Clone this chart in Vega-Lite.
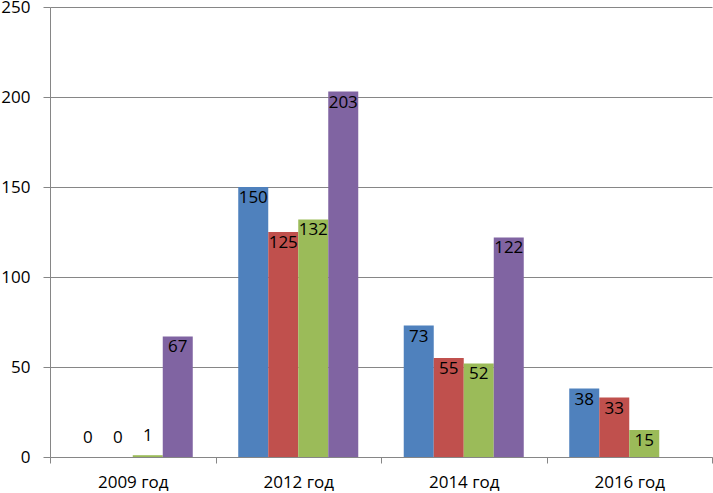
{
  "$schema": "https://vega.github.io/schema/vega-lite/v6.json",
  "autosize": "none",
  "width": 662,
  "height": 450,
  "padding": {"left": 50, "top": 7, "right": 1, "bottom": 36},
  "background": "#ffffff",
  "config": {
    "view": {"stroke": null},
    "font": "Open Sans",
    "axis": {"labelFont": "Open Sans", "labelColor": "#000000", "labelFontSize": 17}
  },
  "data": {
    "values": [
      {"year": "2009 год", "series": "Ряд 1", "value": 0},
      {"year": "2009 год", "series": "Ряд 2", "value": 0},
      {"year": "2009 год", "series": "Ряд 3", "value": 1},
      {"year": "2009 год", "series": "Ряд 4", "value": 67},
      {"year": "2012 год", "series": "Ряд 1", "value": 150},
      {"year": "2012 год", "series": "Ряд 2", "value": 125},
      {"year": "2012 год", "series": "Ряд 3", "value": 132},
      {"year": "2012 год", "series": "Ряд 4", "value": 203},
      {"year": "2014 год", "series": "Ряд 1", "value": 73},
      {"year": "2014 год", "series": "Ряд 2", "value": 55},
      {"year": "2014 год", "series": "Ряд 3", "value": 52},
      {"year": "2014 год", "series": "Ряд 4", "value": 122},
      {"year": "2016 год", "series": "Ряд 1", "value": 38},
      {"year": "2016 год", "series": "Ряд 2", "value": 33},
      {"year": "2016 год", "series": "Ряд 3", "value": 15}
    ]
  },
  "encoding": {
    "x": {
      "field": "year", "type": "nominal", "title": null,
      "scale": {"paddingInner": 0, "paddingOuter": 0},
      "axis": {
        "labelAngle": 0, "tickBand": "extent", "domainColor": "#868686",
        "tickColor": "#868686", "tickSize": 6, "labelPadding": 11,
        "labelBaseline": "top"
      }
    },
    "xOffset": {
      "field": "series", "type": "nominal",
      "scale": {"paddingInner": 0, "paddingOuter": 0.758},
      "sort": ["Ряд 1", "Ряд 2", "Ряд 3", "Ряд 4"]
    },
    "y": {
      "field": "value", "type": "quantitative", "title": null,
      "scale": {"domain": [0, 250], "nice": false},
      "axis": {
        "values": [0, 50, 100, 150, 200, 250], "gridColor": "#868686",
        "domainColor": "#868686", "tickColor": "#868686", "tickSize": 7,
        "labelPadding": 13
      }
    }
  },
  "layer": [
    {
      "mark": {"type": "bar"},
      "encoding": {
        "color": {
          "field": "series", "type": "nominal", "legend": null,
          "scale": {"domain": ["Ряд 1", "Ряд 2", "Ряд 3", "Ряд 4"], "range": ["#4F81BD", "#C0504D", "#9BBB59", "#8064A2"]}
        }
      }
    },
    {
      "transform": [{"filter": "datum.value >= 10"}],
      "mark": {"type": "text", "baseline": "top", "dy": 3, "fontSize": 17, "color": "#000000"},
      "encoding": {"text": {"field": "value", "type": "quantitative"}}
    },
    {
      "transform": [{"filter": "datum.value < 10"}],
      "mark": {"type": "text", "baseline": "bottom", "dy": -10, "fontSize": 17, "color": "#000000"},
      "encoding": {"text": {"field": "value", "type": "quantitative"}}
    }
  ]
}
